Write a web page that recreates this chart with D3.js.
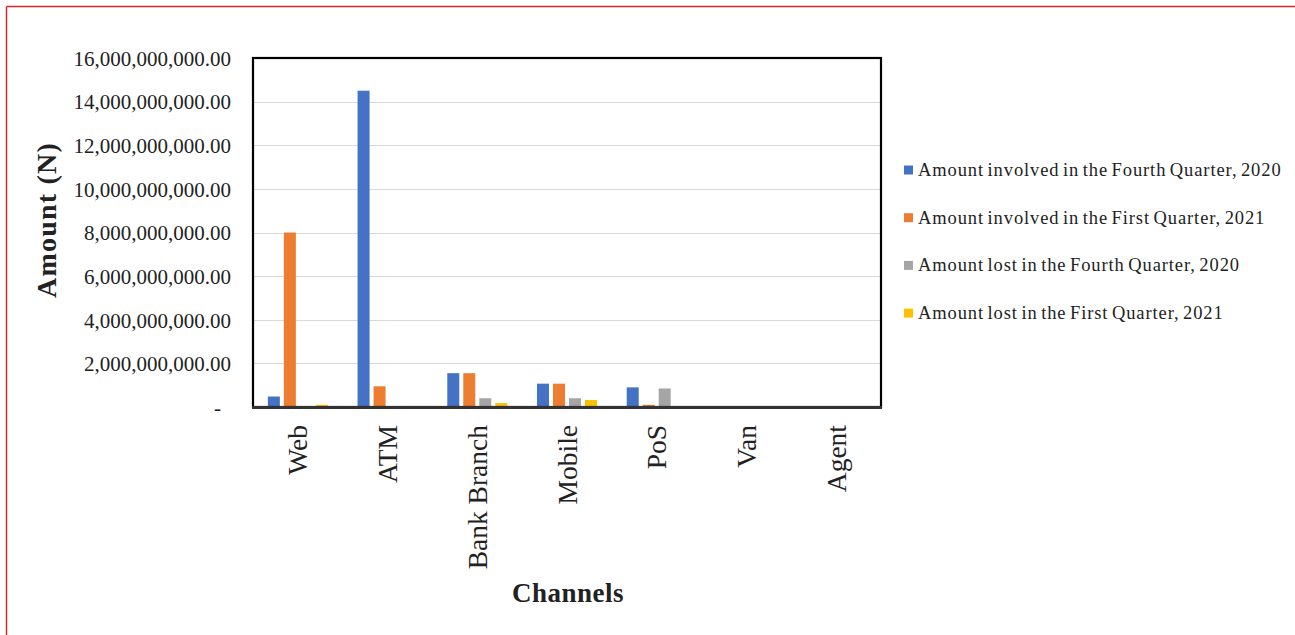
<!DOCTYPE html>
<html>
<head>
<meta charset="utf-8">
<script src="https://cdn.jsdelivr.net/npm/d3@7"></script>
<style>
  html, body { margin: 0; padding: 0; background: #fff; }
  svg { display: block; }
  text { font-family: "Liberation Serif", "DejaVu Serif", serif; fill: #222; }
</style>
</head>
<body>
<svg id="chart" width="1295" height="635"></svg>
<script>
// Fraud amounts by channel (Naira)
const channels = ["Web", "ATM", "Bank Branch", "Mobile", "PoS", "Van", "Agent"];
const seriesNames = [
  "Amount involved in the Fourth Quarter, 2020",
  "Amount involved in the First Quarter, 2021",
  "Amount lost in the Fourth Quarter, 2020",
  "Amount lost in the First Quarter, 2021"
];
const involvedQ4_2020 = [480000000, 14500000000, 1550000000, 1070000000, 900000000, 0, 0];
const involvedQ1_2021 = [8000000000, 950000000, 1550000000, 1070000000, 100000000, 0, 0];
const lostQ4_2020     = [0, 0, 400000000, 400000000, 850000000, 0, 0];
const lostQ1_2021     = [100000000, 0, 180000000, 320000000, 0, 0, 0];
const seriesColors = ["#4472C4", "#ED7D31", "#A5A5A5", "#FFC000"];
const yTicks = [0, 2e9, 4e9, 6e9, 8e9, 10e9, 12e9, 14e9, 16e9];

const seriesValues = [involvedQ4_2020, involvedQ1_2021, lostQ4_2020, lostQ1_2021];
const rows = channels.map((c, i) => ({
  channel: c,
  values: seriesNames.map((s, j) => ({ series: s, idx: j, value: seriesValues[j][i] }))
}));

const svg = d3.select("#chart");
const plot = { left: 253, right: 881, top: 58, bottom: 407 };

// page border (top and left edges)
svg.append("line").attr("x1", 6.5).attr("y1", 6.5).attr("x2", 1295).attr("y2", 6.5)
  .attr("stroke", "#d9262c").attr("stroke-width", 1.5);
svg.append("line").attr("x1", 6.5).attr("y1", 6.5).attr("x2", 6.5).attr("y2", 635)
  .attr("stroke", "#d9262c").attr("stroke-width", 1.5);

const x0 = d3.scaleBand().domain(channels).range([plot.left, plot.right]).padding(0);
const groupW = 60;
const x1 = d3.scaleBand().domain(d3.range(seriesNames.length)).range([0, groupW]).paddingInner(0.25).paddingOuter(0);
const y = d3.scaleLinear().domain([0, 16e9]).range([plot.bottom, plot.top]);

// gridlines
svg.append("g")
  .selectAll("line")
  .data(yTicks.filter(t => t > 0 && t < 16e9))
  .join("line")
  .attr("x1", plot.left).attr("x2", plot.right)
  .attr("y1", d => Math.round(y(d)) + 0.5).attr("y2", d => Math.round(y(d)) + 0.5)
  .attr("stroke", "#d9d9d9").attr("stroke-width", 1.2);

// bars
const groups = svg.append("g").selectAll("g")
  .data(rows)
  .join("g")
  .attr("transform", d => `translate(${x0(d.channel) + (x0.bandwidth() - groupW) / 2},0)`);
groups.selectAll("rect")
  .data(d => d.values)
  .join("rect")
  .attr("x", d => x1(d.idx))
  .attr("width", x1.bandwidth())
  .attr("y", d => y(d.value))
  .attr("height", d => y(0) - y(d.value))
  .attr("fill", d => seriesColors[d.idx]);

// plot frame
svg.append("rect")
  .attr("x", plot.left).attr("y", plot.top)
  .attr("width", plot.right - plot.left).attr("height", plot.bottom - plot.top)
  .attr("fill", "none").attr("stroke", "#000").attr("stroke-width", 2.2);
svg.append("line")
  .attr("x1", plot.left - 1).attr("x2", plot.right + 1)
  .attr("y1", plot.bottom + 0.5).attr("y2", plot.bottom + 0.5)
  .attr("stroke", "#333").attr("stroke-width", 3);

// y axis labels
const yAxis = d3.axisLeft(y).tickValues(yTicks).tickSize(0).tickPadding(0)
  .tickFormat(d => d === 0 ? "-" : d3.format(",.2f")(d));
const yg = svg.append("g").attr("transform", `translate(231,0)`).call(yAxis);
yg.select(".domain").remove();
yg.selectAll("text")
  .attr("font-size", 21).attr("fill", "#222")
  .attr("font-family", "Liberation Serif, serif")
  .attr("dy", "0.35em")
  .attr("dx", d => d === 0 ? -10 : 0);

// x axis labels (rotated)
const xAxis = d3.axisBottom(x0).tickSize(0).tickPadding(0);
const xg = svg.append("g").attr("transform", `translate(0,${plot.bottom})`).call(xAxis);
xg.select(".domain").remove();
xg.selectAll("text")
  .attr("font-size", 27.5).attr("fill", "#222")
  .attr("font-family", "Liberation Serif, serif")
  .attr("text-anchor", "end")
  .attr("dy", null)
  .attr("y", 0)
  .attr("transform", "translate(0,18) rotate(-90)")
  .attr("dominant-baseline", "central");

// axis titles
svg.append("text")
  .attr("transform", "translate(46,220) rotate(-90)")
  .attr("text-anchor", "middle").attr("dominant-baseline", "central")
  .attr("font-size", 28).attr("font-weight", "bold").attr("fill", "#111")
  .attr("letter-spacing", 1.2)
  .text("Amount (N)");
svg.append("text")
  .attr("x", (plot.left + plot.right) / 2 + 1).attr("y", 602)
  .attr("text-anchor", "middle")
  .attr("font-size", 27).attr("font-weight", "bold").attr("fill", "#111")
  .attr("letter-spacing", 0.5)
  .text("Channels");

// legend
const legend = svg.append("g").selectAll("g")
  .data(seriesNames)
  .join("g")
  .attr("transform", (d, i) => `translate(904,${170 + i * 47.7})`);
legend.append("rect")
  .attr("x", 0).attr("y", -4.5).attr("width", 9).attr("height", 9)
  .attr("fill", (d, i) => seriesColors[i]);
legend.append("text")
  .attr("x", 14).attr("y", 0).attr("dominant-baseline", "central")
  .attr("font-size", 18.5).attr("fill", "#222")
  .attr("letter-spacing", 0.9)
  .attr("word-spacing", -2)
  .text(d => d);
</script>
</body>
</html>
